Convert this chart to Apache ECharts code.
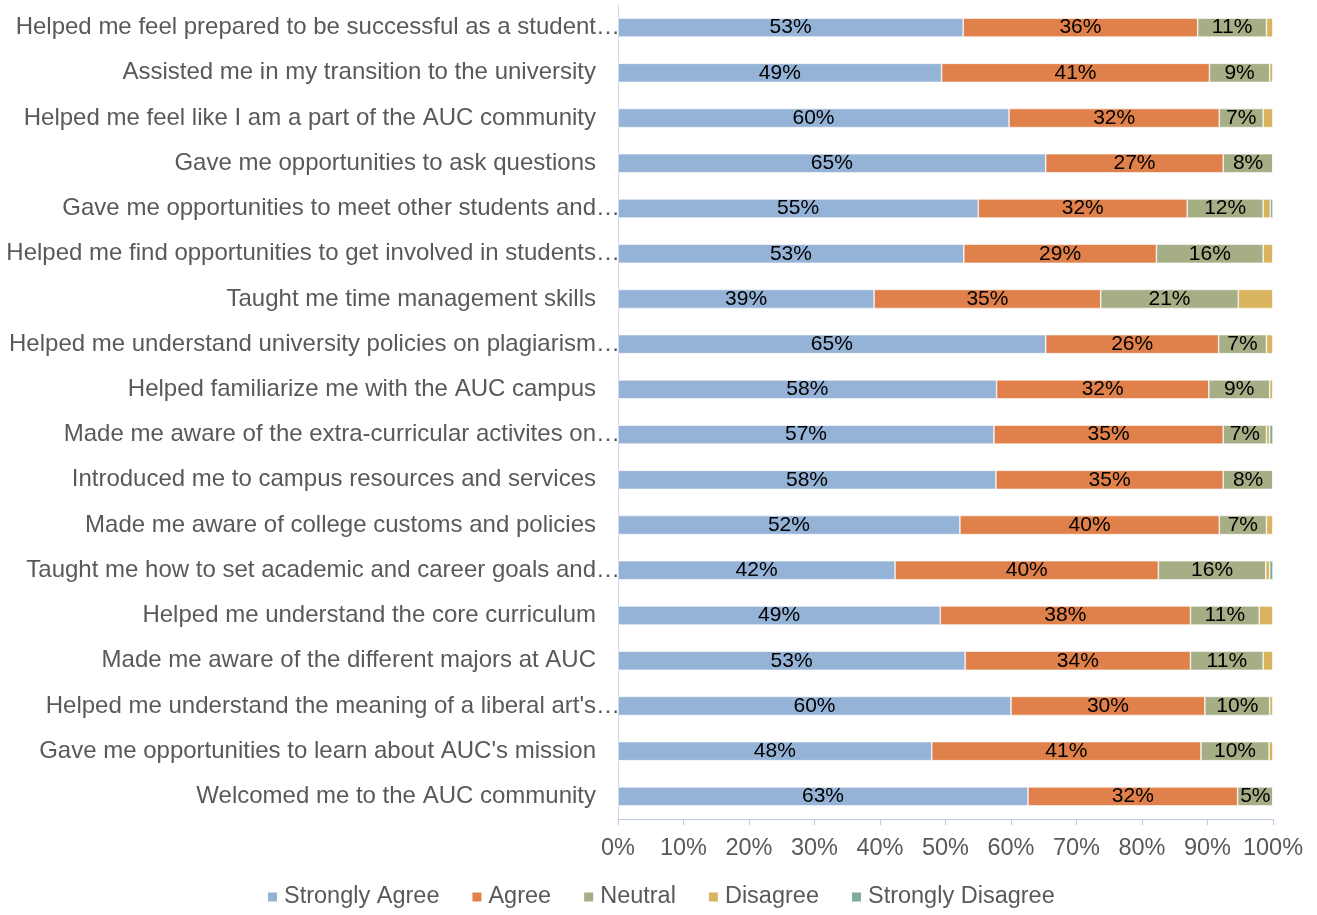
<!DOCTYPE html>
<html>
<head>
<meta charset="utf-8">
<script src="https://cdn.jsdelivr.net/npm/echarts@6/dist/echarts.min.js"></script>
<style>
    html, body { margin: 0; padding: 0; background: #fff; }
    #main { width: 1317px; height: 915px; }
</style>
</head>
<body>
<div id="main"></div>
<script>
var categories = [
    'Helped me feel prepared to be successful as a student…',
    'Assisted me in my transition to the university',
    'Helped me feel like I am a part of the AUC community',
    'Gave me opportunities to ask questions',
    'Gave me opportunities to meet other students and…',
    'Helped me find opportunities to get involved in students…',
    'Taught me time management skills',
    'Helped me understand university policies on plagiarism…',
    'Helped familiarize me with the AUC campus',
    'Made me aware of the extra-curricular activites on…',
    'Introduced me to campus resources and services',
    'Made me aware of college customs and policies',
    'Taught me how to set academic and career goals and…',
    'Helped me understand the core curriculum',
    'Made me aware of the different majors at AUC',
    "Helped me understand the meaning of a liberal art's…",
    "Gave me opportunities to learn about AUC's mission",
    'Welcomed me to the AUC community'
];

var stronglyAgree    = [52.7, 49.4, 59.7, 65.3, 55.0, 52.8, 39.1, 65.3, 57.8, 57.4, 57.7, 52.2, 42.3, 49.2, 53.0, 60.0, 47.9, 62.6];
var agree            = [35.8, 40.9, 32.1, 27.1, 31.9, 29.4, 34.6, 26.4, 32.4, 35.0, 34.7, 39.6, 40.2, 38.2, 34.4, 29.6, 41.1, 32.0];
var neutral          = [10.5,  9.2,  6.7,  7.6, 11.6, 16.3, 21.0,  7.3,  9.3,  6.6,  7.6,  7.2, 16.4, 10.5, 11.1,  9.9, 10.4,  5.4];
var disagree         = [ 1.0,  0.5,  1.5,  0.0,  1.1,  1.5,  5.3,  1.0,  0.5,  0.5,  0.0,  1.0,  0.6,  2.1,  1.5,  0.5,  0.6,  0.0];
var stronglyDisagree = [ 0.0,  0.0,  0.0,  0.0,  0.4,  0.0,  0.0,  0.0,  0.0,  0.5,  0.0,  0.0,  0.5,  0.0,  0.0,  0.0,  0.0,  0.0];

var xTicks = [0, 10, 20, 30, 40, 50, 60, 70, 80, 90, 100];

var seriesNames = ['Strongly Agree', 'Agree', 'Neutral', 'Disagree', 'Strongly Disagree'];
var seriesData = [stronglyAgree, agree, neutral, disagree, stronglyDisagree];
var colors = ['#95B3D7', '#E0804A', '#A6AE86', '#D9B45E', '#7DAB9C'];

var FONT = '"Liberation Sans", Arial, sans-serif';

var myChart = echarts.init(document.getElementById('main'));

function makeSeries(i) {
    return {
        name: seriesNames[i],
        type: 'bar',
        stack: 'total',
        barWidth: 19,
        data: seriesData[i],
        itemStyle: {
            color: colors[i],
            borderColor: '#ffffff',
            borderWidth: 0.6
        },
        label: {
            show: i < 3,
            position: 'inside',
            color: '#000',
            fontFamily: FONT,
            fontSize: 21,
            formatter: function (params) {
                return Math.round(params.value) + '%';
            }
        },
        emphasis: { disabled: true }
    };
}

// truncated labels overflow toward the axis like in the original
var yData = categories.map(function (c) {
    if (c.charAt(c.length - 1) === '…') {
        return { value: c, textStyle: { padding: [0, -24, 0, 0] } };
    }
    return c;
});

var option = {
    animation: false,
    backgroundColor: '#fff',
    textStyle: { fontFamily: FONT },
    color: colors,
    legend: {
        top: 880,
        left: 261,
        itemWidth: 11,
        itemHeight: 11,
        itemGap: 31,
        icon: 'rect',
        textStyle: {
            fontFamily: FONT,
            fontSize: 23.5,
            color: '#595959',
            padding: [0, 0, 0, 1]
        },
        data: seriesNames
    },
    grid: {
        left: 618,
        right: 44,
        top: 5,
        bottom: 96,
        containLabel: false
    },
    xAxis: {
        type: 'value',
        min: 0,
        max: 100,
        interval: 10,
        axisLine: { show: true, lineStyle: { color: '#BFCDE0', width: 1 } },
        axisTick: { show: true, length: 6, lineStyle: { color: '#BFCDE0' } },
        splitLine: { show: false },
        axisLabel: {
            margin: 18,
            fontFamily: FONT,
            fontSize: 23.5,
            color: '#595959',
            formatter: function (v) {
                return xTicks.indexOf(v) >= 0 ? v + '%' : '';
            }
        }
    },
    yAxis: {
        type: 'category',
        inverse: true,
        data: yData,
        axisLine: { show: true, lineStyle: { color: '#D0D8E4', width: 1 } },
        axisTick: { show: false },
        axisLabel: {
            margin: 22,
            fontFamily: FONT,
            fontSize: 24,
            color: '#595959'
        }
    },
    series: seriesNames.map(function (n, i) { return makeSeries(i); })
};

myChart.setOption(option);
</script>
</body>
</html>
